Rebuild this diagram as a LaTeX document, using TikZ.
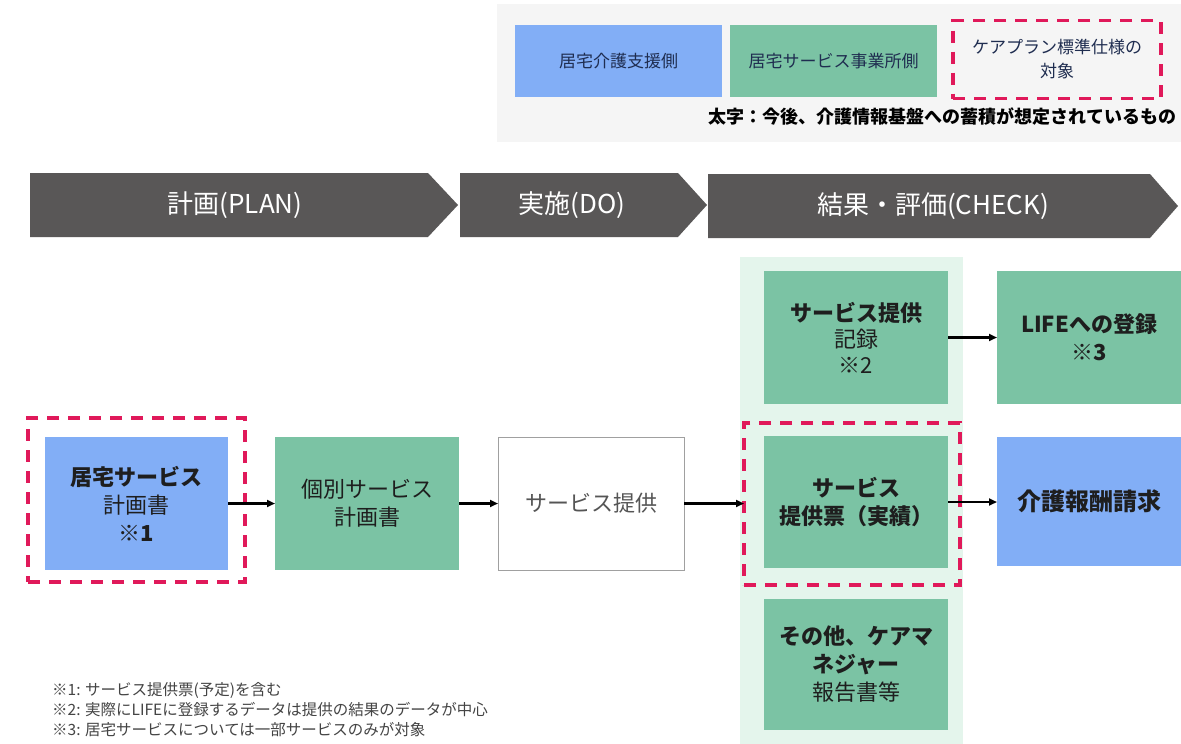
\documentclass[tikz,border=0pt]{standalone}
\usepackage{fontspec}
\setmainfont{Noto Sans CJK JP}
\usetikzlibrary{arrows.meta}
\definecolor{chev}{HTML}{595757}
\definecolor{bluebox}{HTML}{82AEF6}
\definecolor{greenbox}{HTML}{7BC3A4}
\definecolor{mint}{HTML}{E4F5EC}
\definecolor{legbg}{HTML}{F5F5F5}
\definecolor{pinkred}{HTML}{E0195A}
\definecolor{txt}{HTML}{1E1E1E}
\definecolor{navy}{HTML}{1F2D50}
\definecolor{graytxt}{HTML}{555555}
\definecolor{notetxt}{HTML}{444444}
\definecolor{grayline}{HTML}{A0A0A0}
\begin{document}
\begin{tikzpicture}[x=1pt,y=-1pt,
  base/.style={inner sep=0pt,outer sep=0pt,align=center,text=txt},
  gbox/.style={base,fill=greenbox,font=\fontsize{22}{28}\selectfont},
  bbox/.style={base,fill=bluebox,font=\fontsize{22}{28}\selectfont},
  wbox/.style={base,fill=white,draw=grayline,line width=1pt,text=graytxt,font=\fontsize{22}{28}\selectfont},
  tgt/.style={base,draw=pinkred,line width=3.5pt,dash pattern=on 12pt off 9pt},
  legbox/.style={base,text=navy,font=\fontsize{17}{24}\selectfont},
  chevtxt/.style={text=white,font=\fontsize{26}{30}\selectfont,inner sep=0pt},
  arr/.style={-{Triangle[length=8pt,width=7pt]},line width=2.2pt,black},
  note/.style={anchor=west,inner sep=0pt,text=notetxt,font=\fontsize{15.5}{20}\selectfont}
]
\useasboundingbox (0,0) rectangle (1181,744);
\fill[white] (0,0) rectangle (1181,744);

% legend
\fill[legbg] (497,4) rectangle (1181,142);
\node[legbox,fill=bluebox,minimum width=207pt,minimum height=72pt] (legblue) at (618.5,61) {居宅介護支援側};
\node[legbox,fill=greenbox,minimum width=207pt,minimum height=72pt] (leggreen) at (833.5,61) {居宅サービス事業所側};
\node[tgt,minimum width=208pt,minimum height=78pt] (legtgt) at (1057,59.5) {};
\node[legbox] (legtgttxt) at (legtgt) {ケアプラン標準仕様の\\対象};
\node[base,anchor=east,text=black,font=\fontsize{18}{22}\selectfont\bfseries] (legbold) at (1176,117) {太字：今後、介護情報基盤への蓄積が想定されているもの};

% chevrons
\fill[chev] (30,173) -- (428,173) -- (458,205) -- (428,237) -- (30,237) -- cycle;
\fill[chev] (460,173) -- (678,173) -- (707,205) -- (678,237) -- (460,237) -- cycle;
\fill[chev] (708,174) -- (1150,174) -- (1178,206) -- (1150,238) -- (708,238) -- cycle;
\node[chevtxt] (plan) at (235,205) {計画(PLAN)};
\node[chevtxt] (do) at (572,205) {実施(DO)};
\node[chevtxt] (check) at (933,206) {結果・評価(CHECK)};

% mint column
\fill[mint] (740,257) rectangle (963,744);

% boxes
\node[bbox,minimum width=183pt,minimum height=133pt] (kyotaku) at (136.5,503.5) {{\bfseries 居宅サービス}\\計画書\\{\bfseries ※1}};
\node[tgt,minimum width=217pt,minimum height=164pt] (tgt1) at (136.5,500) {};
\node[gbox,minimum width=184pt,minimum height=133pt] (kobetsu) at (367,503.5) {個別サービス\\計画書};
\node[wbox,minimum width=186pt,minimum height=133pt] (teikyo) at (591,503.5) {サービス提供};
\node[gbox,minimum width=184pt,minimum height=133pt,font=\fontsize{22}{26}\selectfont] (kiroku) at (856,337.5) {{\bfseries サービス提供}\\記録\\※2};
\node[gbox,minimum width=184pt,minimum height=133pt,font=\fontsize{22}{28}\selectfont\bfseries] (life) at (1089,337.5) {LIFEへの登録\\※3};
\node[gbox,minimum width=184pt,minimum height=132pt,font=\fontsize{22}{28}\selectfont\bfseries] (hyo) at (856,502) {サービス\\提供票（実績）};
\node[tgt,minimum width=216pt,minimum height=162pt] (tgt2) at (852,504) {};
\node[bbox,minimum width=184pt,minimum height=129pt,font=\fontsize{24}{28}\selectfont\bfseries] (seikyu) at (1089,501.5) {介護報酬請求};
\node[gbox,minimum width=184pt,minimum height=131pt] (sonota) at (856,664.5) {{\bfseries その他、ケアマ}\\{\bfseries ネジャー}\\報告書等};

% arrows
\draw[arr] (kyotaku.east) -- (kobetsu.west);
\draw[arr] (kobetsu.east) -- (teikyo.west);
\draw[arr] (teikyo.east) -- (tgt2.west |- teikyo.east);
\draw[arr] (hyo.east) -- (hyo.east -| seikyu.west);
\draw[arr] (kiroku.east) -- (life.west);

% notes
\node[note] (n1) at (52,690) {※1: サービス提供票(予定)を含む};
\node[note] (n2) at (52,710) {※2: 実際にLIFEに登録するデータは提供の結果のデータが中心};
\node[note] (n3) at (52,730) {※3: 居宅サービスについては一部サービスのみが対象};
\end{tikzpicture}
\end{document}
